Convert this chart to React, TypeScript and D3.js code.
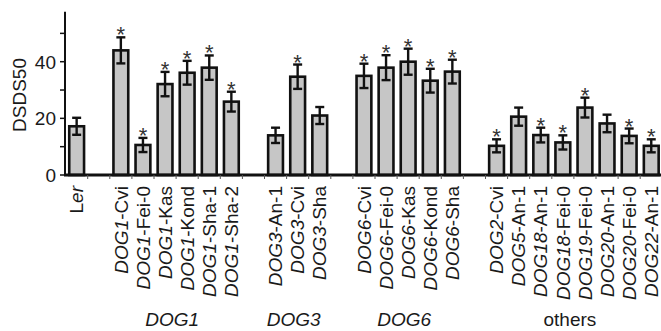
import React, { useRef, useEffect } from "react";
import { select, scaleBand, scaleLinear, range } from "d3";

// data
const lines = [
  "Ler", "", "DOG1-Cvi", "DOG1-Fei-0", "DOG1-Kas", "DOG1-Kond", "DOG1-Sha-1", "DOG1-Sha-2",
  "", "DOG3-An-1", "DOG3-Cvi", "DOG3-Sha",
  "", "DOG6-Cvi", "DOG6-Fei-0", "DOG6-Kas", "DOG6-Kond", "DOG6-Sha",
  "", "DOG2-Cvi", "DOG5-An-1", "DOG18-An-1", "DOG18-Fei-0", "DOG19-Fei-0", "DOG20-An-1", "DOG20-Fei-0", "DOG22-An-1",
];
const means = [
  17.2, 0, 44, 10.6, 32.1, 36.1, 37.9, 25.9,
  0, 14, 34.7, 21,
  0, 35, 37.9, 40, 33.3, 36.5,
  0, 10.3, 20.6, 14.1, 11.5, 23.8, 18.2, 13.8, 10.3,
];
const errs = [
  3, 0, 4.6, 2.5, 4.3, 4.2, 4.3, 3.5,
  0, 2.7, 4.3, 3,
  0, 4.3, 4.4, 4.6, 4.2, 4.2,
  0, 2.3, 3.2, 2.6, 2.5, 3.5, 3.1, 2.6, 2.3,
];
const signif = [
  0, 0, 1, 1, 1, 1, 1, 1,
  0, 0, 1, 0,
  0, 1, 1, 1, 1, 1,
  0, 1, 0, 1, 1, 1, 0, 1, 1,
];
const groupNames = ["DOG1", "DOG3", "DOG6", "others"];
const groupFirst = [2, 9, 13, 19];
const groupLast = [7, 11, 17, 26];
const yTicks = [0, 10, 20, 30, 40, 50];
const yLabelTicks = [0, 20, 40];

const font = "'Liberation Sans', Arial, sans-serif";

export default function App() {
  const svgRef = useRef(null);

  useEffect(() => {
    const svg = select(svgRef.current);
    svg.selectAll("*").remove();

    const slots = range(lines.length).map(String);
    const x = scaleBand().domain(slots).range([65.6, 662.3]).paddingInner(0.33).paddingOuter(0.165);
    const y = scaleLinear().domain([0, 40]).range([175, 61.7]);
    const bw = x.bandwidth();
    const cx = (i) => x(String(i)) + bw / 2;

    const g = svg.append("g").attr("font-family", font).attr("fill", "#1a1a1a");

    // y axis
    g.append("line")
      .attr("x1", 65).attr("x2", 65)
      .attr("y1", y(57.6)).attr("y2", y(0) + 1)
      .attr("stroke", "#111").attr("stroke-width", 2);
    g.selectAll(".ytick").data(yTicks).enter().append("line")
      .attr("x1", 60).attr("x2", 65)
      .attr("y1", d => y(d)).attr("y2", d => y(d))
      .attr("stroke", "#111").attr("stroke-width", 1.5);
    g.selectAll(".ylab").data(yLabelTicks).enter().append("text")
      .attr("x", 56).attr("y", d => y(d)).attr("dy", "0.36em")
      .attr("text-anchor", "end").attr("font-size", 19)
      .text(d => d);
    g.append("text")
      .attr("transform", `translate(12,95) rotate(-90)`)
      .attr("dy", "0.72em")
      .attr("text-anchor", "middle").attr("font-size", 19)
      .text("DSDS50");

    // bars
    const idx = range(lines.length).filter(i => lines[i] !== "");
    g.selectAll(".bar").data(idx).enter().append("rect")
      .attr("x", i => x(String(i)))
      .attr("y", i => y(means[i]))
      .attr("width", bw)
      .attr("height", i => y(0) - y(means[i]))
      .attr("fill", "#c6c6c6").attr("stroke", "#111").attr("stroke-width", 2.6);

    // error bars
    const eb = g.selectAll(".err").data(idx).enter().append("g")
      .attr("stroke", "#111").attr("stroke-width", 2.4);
    eb.append("line")
      .attr("x1", cx).attr("x2", cx)
      .attr("y1", i => y(means[i] + errs[i])).attr("y2", i => y(means[i] - errs[i]));
    eb.append("line")
      .attr("x1", i => cx(i) - 4.5).attr("x2", i => cx(i) + 4.5)
      .attr("y1", i => y(means[i] + errs[i])).attr("y2", i => y(means[i] + errs[i]));
    eb.append("line")
      .attr("x1", i => cx(i) - 4.5).attr("x2", i => cx(i) + 4.5)
      .attr("y1", i => y(means[i] - errs[i])).attr("y2", i => y(means[i] - errs[i]));

    // asterisks
    g.selectAll(".star").data(idx.filter(i => signif[i])).enter().append("text")
      .attr("x", cx).attr("y", i => y(means[i] + errs[i]) + 5)
      .attr("text-anchor", "middle").attr("font-size", 22).attr("fill", "#333")
      .text("*");

    // baseline and slot ticks
    g.append("line")
      .attr("x1", 64).attr("x2", 661)
      .attr("y1", y(0)).attr("y2", y(0))
      .attr("stroke", "#111").attr("stroke-width", 3);
    g.selectAll(".xtick").data(range(1, lines.length)).enter().append("line")
      .attr("x1", i => x(String(i)) - x.step() * 0.165).attr("x2", i => x(String(i)) - x.step() * 0.165)
      .attr("y1", y(0)).attr("y2", y(0) + 4)
      .attr("stroke", "#555").attr("stroke-width", 1);

    // rotated line labels: gene part italic, accession upright
    const lab = g.selectAll(".lab").data(idx).enter().append("text")
      .attr("transform", i => `translate(${cx(i)},186) rotate(-90)`)
      .attr("dy", "0.35em")
      .attr("text-anchor", "end").attr("font-size", 19);
    lab.each(function (i) {
      const t = select(this);
      const name = lines[i];
      if (name === "Ler") {
        t.append("tspan").text("L");
        t.append("tspan").attr("font-style", "italic").text("er");
      } else {
        const k = name.indexOf("-");
        t.append("tspan").attr("font-style", "italic").text(name.slice(0, k));
        t.append("tspan").text(name.slice(k));
      }
    });

    // group labels
    g.selectAll(".grp").data(groupNames).enter().append("text")
      .attr("x", (d, k) => (cx(groupFirst[k]) + cx(groupLast[k])) / 2 - 4)
      .attr("y", 326)
      .attr("text-anchor", "middle").attr("font-size", 19)
      .attr("font-style", d => (d === "others" ? "normal" : "italic"))
      .text(d => d);
  }, []);

  return (
    <svg ref={svgRef} width={661} height={331}
      style={{ position: "absolute", left: 0, top: 0, background: "#fff" }} />
  );
}
